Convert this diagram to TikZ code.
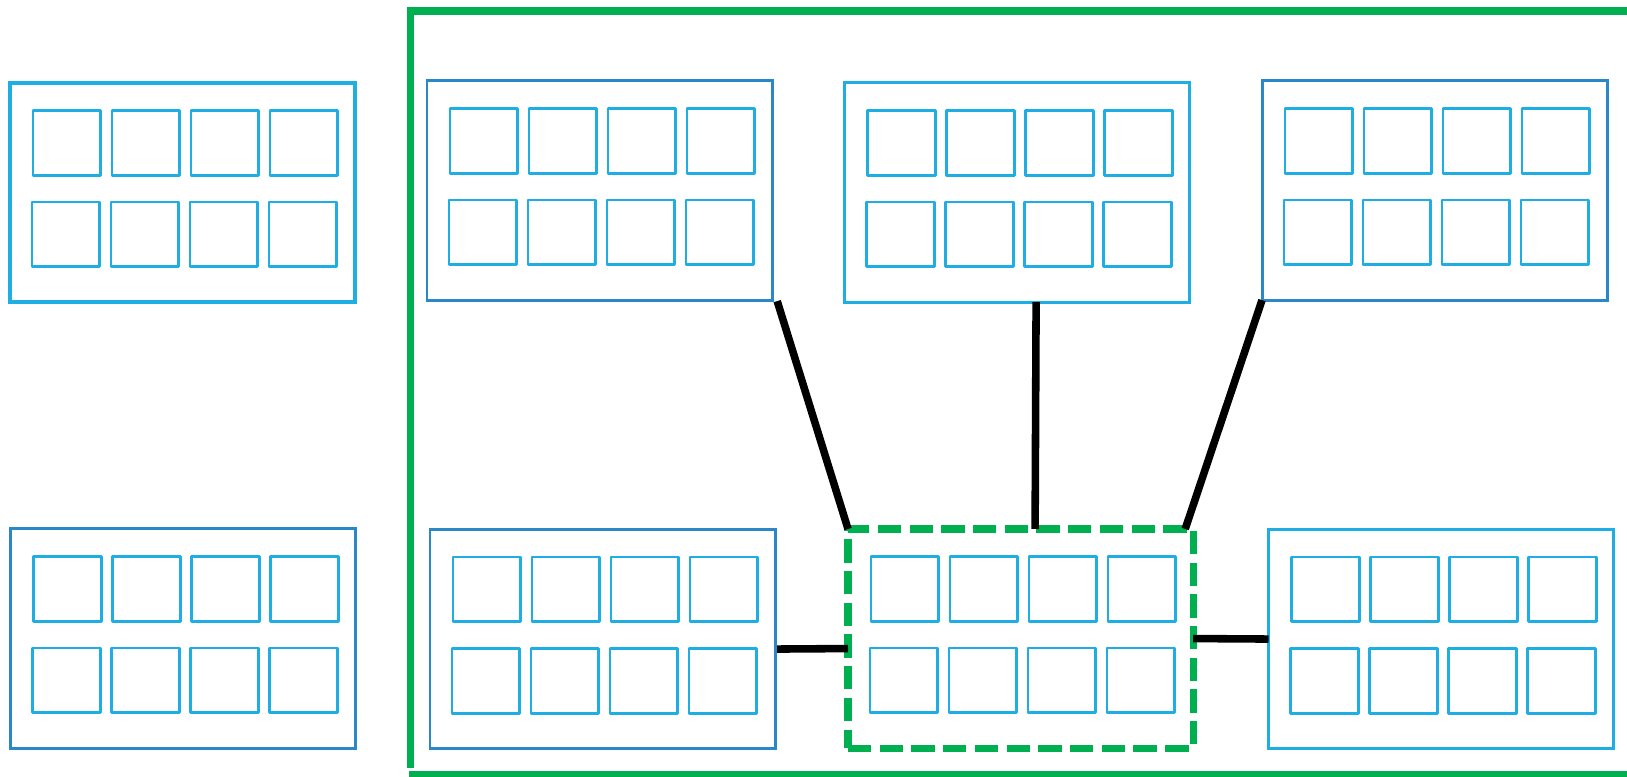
\documentclass[tikz,border=0pt]{standalone}
\usepackage{xcolor}
\usetikzlibrary{calc}
\definecolor{cellblue}{RGB}{31,174,227}
\definecolor{frameblue}{RGB}{42,135,200}
\definecolor{zonegreen}{RGB}{0,176,80}
\tikzset{
  board/.style   = {rectangle, draw, line width=0.85pt, minimum width=3.45cm,
                    minimum height=2.19cm, inner sep=0pt, outer sep=0pt,
                    anchor=north west},
  cell/.style    = {rectangle, draw=cellblue, line width=0.8pt, line join=round,
                    minimum width=0.677cm, minimum height=0.647cm, inner sep=0pt,
                    outer sep=0pt, anchor=north west},
  hotzone/.style = {board, draw=zonegreen, line width=2pt,
                    dash pattern=on 2.33mm off 0.84mm},
  link/.style    = {draw=black, line width=2.15pt},
  zone/.style    = {draw=zonegreen, line width=2.2pt},
}

\begin{document}
\begin{tikzpicture}[x=0.01cm, y=-0.01cm]
  \useasboundingbox (0,0) rectangle (1627,777);

  % the boards, top row then bottom row
  \foreach \name/\x/\y/\col/\lw in {A/10/83/cellblue/1.1pt, B/427/81/frameblue/0.85pt,
      C/844.5/83/cellblue/0.85pt, D/1262/81/frameblue/0.85pt,
      E/10.5/529/frameblue/0.85pt, F/430/529.5/frameblue/0.85pt,
      H/1268.5/529.5/cellblue/0.85pt}
    \node[board, draw=\col, line width=\lw] (\name) at (\x,\y) {};
  % the selected board
  \node[hotzone] (G) at (848,529) {};

  % two rows of four cells on every board
  \foreach \name in {A,B,C,D,E,F,G,H}
    \foreach \r in {0,1}
      \foreach \c in {0,...,3}
        \node[cell] (\name-\r\c) at ($(\name.north west)+(23+79*\c-\r, 27.5+91.5*\r)$) {};

  % green region round the right-hand boards
  \draw[zone] (410.5,768) |- (1627,11);
  \draw[zone] (409,774.5) -- (1627,774.5);

  % links into the selected board
  \draw[link] ($(B.south east)+(5,1)$) -- (G.north west);
  \draw[link] ($(C.south)+(19,0)$) -- ($(G.north)+(14.5,0)$);
  \draw[link] (D.south west) -- ($(G.north east)+(-8,0)$);
  \draw[link] ($(F.east)+(2,10)$) -- ($(G.west)+(0,10)$);
  \draw[link] (G.east) -- (H.west);
\end{tikzpicture}
\end{document}
